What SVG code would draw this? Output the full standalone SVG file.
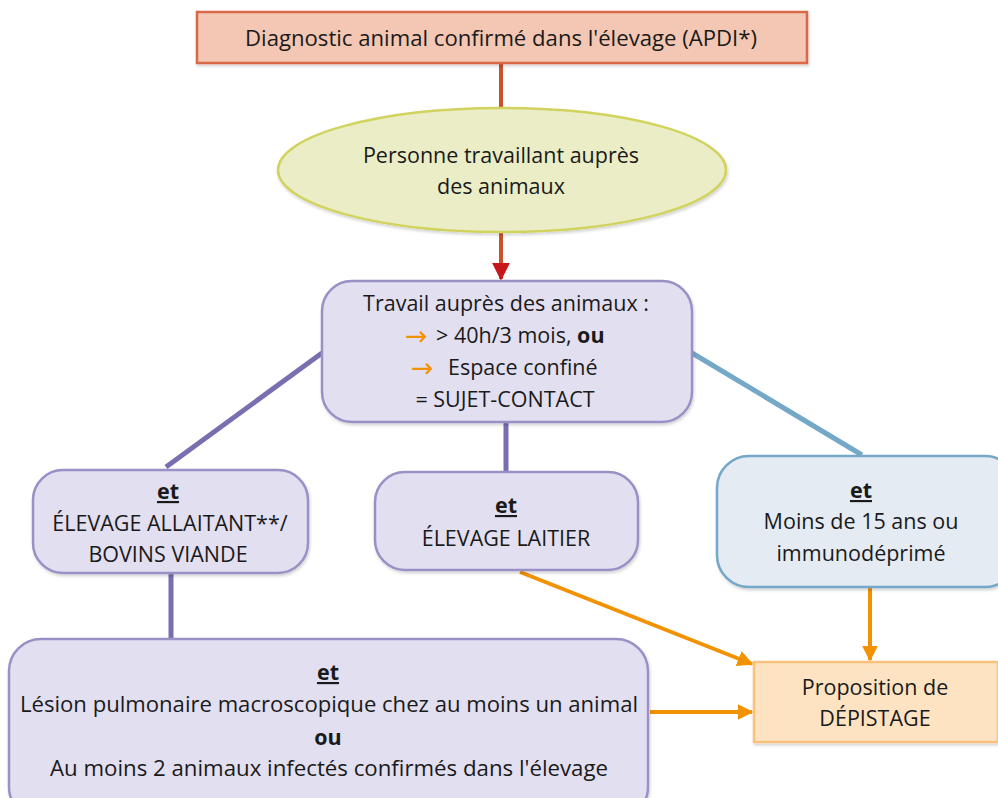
<svg xmlns="http://www.w3.org/2000/svg" width="998" height="798" viewBox="0 0 998 798">
<defs>
<filter id="sh" x="-5%" y="-5%" width="110%" height="115%">
<feDropShadow dx="1" dy="2" stdDeviation="1.5" flood-color="#000" flood-opacity="0.18"/>
</filter>
<marker id="ao" viewBox="0 0 10 10" refX="9" refY="5" markerWidth="4" markerHeight="4" orient="auto" markerUnits="strokeWidth">
<path d="M0,0 L10,5 L0,10 z" fill="#f39200"/>
</marker>
<marker id="ar" viewBox="0 0 10 10" refX="9" refY="5" markerWidth="4.5" markerHeight="5" orient="auto" markerUnits="strokeWidth">
<path d="M0,0 L10,5 L0,10 z" fill="#c8161d"/>
</marker>
</defs>
<style>
text{font-family:"Open Sans","Noto Sans",sans-serif;font-size:21.5px;fill:#1a1a1a;text-anchor:middle}
.b{font-weight:bold}
.u{text-decoration:underline;font-weight:bold}
.arw{font-family:"DejaVu Sans",sans-serif;fill:#f39200;text-anchor:start;font-size:27px}
.pur{fill:#e2dff0;stroke:#9b90c6;stroke-width:2.5}
.blu{fill:#e4ebf3;stroke:#74a8c8;stroke-width:2.5}
.lp{stroke:#7a6db0;stroke-width:5;fill:none}
.lb{stroke:#74a8c8;stroke-width:5;fill:none}
.lo{stroke:#f39200;stroke-width:4;fill:none}
</style>
<g id="connectors">
<line x1="501" y1="63" x2="501" y2="108" stroke="#c9522b" stroke-width="4"/>
<line x1="501" y1="232" x2="501" y2="279" stroke="#c9522b" stroke-width="4" marker-end="url(#ar)"/>
<line class="lp" x1="322" y1="353" x2="166" y2="467"/>
<line class="lp" x1="506" y1="422" x2="506" y2="472"/>
<line class="lb" x1="692" y1="353" x2="862" y2="455"/>
<line class="lp" x1="171" y1="573" x2="171" y2="640"/>
<line class="lo" x1="520" y1="572" x2="752" y2="664" marker-end="url(#ao)"/>
<line class="lo" x1="870" y1="587" x2="870" y2="660" marker-end="url(#ao)"/>
<line class="lo" x1="650" y1="712" x2="752" y2="712" marker-end="url(#ao)"/>
</g>
<g id="diagnostic">
<rect x="197" y="12" width="610" height="51" fill="#f3c7b3" stroke="#d9674a" stroke-width="2.5" filter="url(#sh)"/>
<text x="501" y="46" textLength="512" lengthAdjust="spacingAndGlyphs">Diagnostic animal confirmé dans l'élevage (APDI*)</text>
</g>
<g id="personne">
<ellipse cx="502" cy="170" rx="224" ry="62" fill="#eaedc6" stroke="#d2d35e" stroke-width="2.5" filter="url(#sh)"/>
<text x="501" y="163">Personne travaillant auprès</text>
<text x="501" y="194">des animaux</text>
</g>
<g id="travail">
<rect class="pur" x="322" y="281" width="370" height="141" rx="30" filter="url(#sh)"/>
<text x="506" y="311">Travail auprès des animaux :</text>
<text class="arw" x="405" y="345">→</text>
<text x="436" y="343" style="text-anchor:start">&gt; 40h/3 mois, <tspan class="b">ou</tspan></text>
<text class="arw" x="411" y="377">→</text>
<text x="448" y="375" style="text-anchor:start">Espace confiné</text>
<text x="505" y="407">= SUJET-CONTACT</text>
</g>
<g id="allaitant">
<rect class="pur" x="33" y="470" width="275" height="103" rx="30" filter="url(#sh)"/>
<text class="u" x="168" y="499">et</text>
<text x="170" y="531">ÉLEVAGE ALLAITANT**/</text>
<text x="168" y="562">BOVINS VIANDE</text>
</g>
<g id="laitier">
<rect class="pur" x="375" y="472" width="263" height="98" rx="30" filter="url(#sh)"/>
<text class="u" x="506" y="513">et</text>
<text x="506" y="546">ÉLEVAGE LAITIER</text>
</g>
<g id="moins15">
<rect class="blu" x="717" y="456" width="300" height="131" rx="32" filter="url(#sh)"/>
<text class="u" x="861" y="498">et</text>
<text x="861" y="529">Moins de 15 ans ou</text>
<text x="861" y="561">immunodéprimé</text>
</g>
<g id="lesion">
<rect class="pur" x="9" y="639" width="639" height="180" rx="32" filter="url(#sh)"/>
<text class="u" x="328" y="680">et</text>
<text x="329" y="712" textLength="618" lengthAdjust="spacingAndGlyphs">Lésion pulmonaire macroscopique chez au moins un animal</text>
<text class="b" x="328" y="745">ou</text>
<text x="329" y="776" textLength="558" lengthAdjust="spacingAndGlyphs">Au moins 2 animaux infectés confirmés dans l'élevage</text>
</g>
<g id="depistage">
<rect x="754" y="662" width="244" height="80" fill="#fde3c2" stroke="#f8c27e" stroke-width="2.5" filter="url(#sh)"/>
<text x="875" y="695">Proposition de</text>
<text x="875" y="726">DÉPISTAGE</text>
</g>
</svg>
